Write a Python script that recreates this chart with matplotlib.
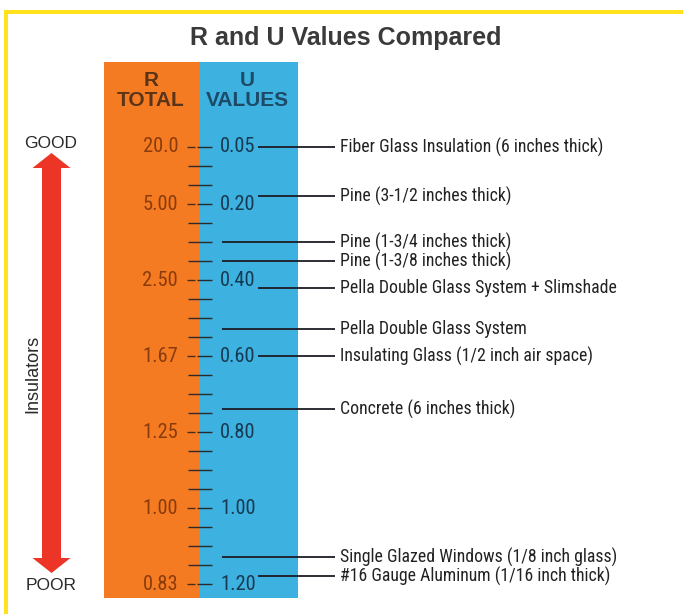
import numpy as np
import matplotlib
matplotlib.use("Agg")
import matplotlib.pyplot as plt
from matplotlib import font_manager
from matplotlib.patches import Rectangle, Polygon

# --- scale data ---------------------------------------------------------
u_major = [0.05, 0.20, 0.40, 0.60, 0.80, 1.00, 1.20]
u_major_labels = ["0.05", "0.20", "0.40", "0.60", "0.80", "1.00", "1.20"]
r_major_labels = ["20.0", "5.00", "2.50", "1.67", "1.25", "1.00", "0.83"]
u_minor_step = 0.05

# --- materials and their U values --------------------------------------
materials = [
    "Fiber Glass Insulation (6 inches thick)",
    "Pine (3-1/2 inches thick)",
    "Pine (1-3/4 inches thick)",
    "Pine (1-3/8 inches thick)",
    "Pella Double Glass System + Slimshade",
    "Pella Double Glass System",
    "Insulating Glass (1/2 inch air space)",
    "Concrete (6 inches thick)",
    "Single Glazed Windows (1/8 inch glass)",
    "#16 Gauge Aluminum (1/16 inch thick)",
]
material_u = [0.05, 0.18, 0.30, 0.35, 0.42, 0.53, 0.60, 0.74, 1.13, 1.18]

# --- fonts: prefer a condensed face when one is installed ---------------
available = {f.name for f in font_manager.fontManager.ttflist}
condensed = [n for n in ("Liberation Sans Narrow", "Roboto Condensed",
                         "Open Sans Condensed") if n in available]
SANS = ["Liberation Sans", "DejaVu Sans"]
if condensed:
    NARROW = [condensed[0], "DejaVu Sans"]
    fs_item, fs_num = 12.8, 14.8
else:
    NARROW = SANS
    fs_item, fs_num = 11, 13

# --- figure -------------------------------------------------------------
W, H = 683, 614
fig = plt.figure(figsize=(W / 100, H / 100), dpi=100)
fig.patch.set_facecolor("white")

# layout layer in pixel units (y grows downward)
deco = fig.add_axes([0, 0, 1, 1])
deco.set_xlim(0, W)
deco.set_ylim(H, 0)
deco.axis("off")

# scale layer: x in layout units, y in U value (linear, increasing downward)
px_per_u = 380.0
u_at_top = 0.05 - 147 / px_per_u
u_at_bottom = u_at_top + H / px_per_u
ax = fig.add_axes([0, 0, 1, 1], facecolor="none")
ax.set_xlim(0, W)
ax.set_ylim(u_at_bottom, u_at_top)
ax.axis("off")

# yellow frame
yellow = "#FFE11C"
deco.add_patch(Rectangle((4, 10), W, 4, color=yellow, lw=0))
deco.add_patch(Rectangle((4, 10), 4, H, color=yellow, lw=0))

# title
deco.text(345.5, 38, "R and U Values Compared", ha="center", va="center",
          fontsize=18, fontweight="bold", color="#3a3a3a", family=SANS)

# coloured columns
orange = "#F57B22"
blue = "#3DB1DF"
deco.add_patch(Rectangle((104, 62), 96, 536, color=orange, lw=0))
deco.add_patch(Rectangle((200, 62), 98, 536, color=blue, lw=0))

for x, top_txt, bot_txt, col in ((151, "R", "TOTAL", "#5a3418"),
                                 (247, "U", "VALUES", "#1d4a66")):
    deco.text(x, 80, top_txt, ha="center", va="center", fontsize=15,
              fontweight="bold", color=col, family=SANS)
    deco.text(x, 101, bot_txt, ha="center", va="center", fontsize=15,
              fontweight="bold", color=col, family=SANS)

# tick marks every 0.05; labelled ticks are split at the column edge
minor = np.arange(u_major[0], u_major[-1] + u_minor_step / 2, u_minor_step)
minor = [m for m in minor if min(abs(m - v) for v in u_major) > 1e-6]
ax.hlines(minor, 188, 212, color="#2a2a2a", lw=1.0)
ax.hlines(u_major, 187, 195, color="#4a2a18", lw=1.0)
ax.hlines(u_major, 197, 212, color="#2a2a2a", lw=1.0)

# major labels (R on the left, U on the right)
for u, rl, ul in zip(u_major, r_major_labels, u_major_labels):
    ax.text(178, u, rl, ha="right", va="center", fontsize=fs_num,
            color="#8a3b0c", family=NARROW)
    ax.text(220, u, ul, ha="left", va="center", fontsize=fs_num,
            color="#173a52", family=NARROW)

# leader lines and material names
for name, u in zip(materials, material_u):
    nearest = min(abs(u - m) for m in u_major)
    x0 = 258 if nearest < 0.035 else 222
    ax.hlines(u, x0, 335, color="#1c1c24", lw=1.3)
    ax.text(340, u, name, ha="left", va="center", fontsize=fs_item,
            color="#222222", family=NARROW)

# GOOD / POOR arrow
red = "#EC3527"
cx = 51.5
shaft_half, head_half, head_len = 9.5, 19, 15
top, bottom = 153, 573
arrow = Polygon([
    (cx, top), (cx + head_half, top + head_len), (cx + shaft_half, top + head_len),
    (cx + shaft_half, bottom - head_len), (cx + head_half, bottom - head_len),
    (cx, bottom), (cx - head_half, bottom - head_len), (cx - shaft_half, bottom - head_len),
    (cx - shaft_half, top + head_len), (cx - head_half, top + head_len),
], closed=True, color=red, lw=0)
deco.add_patch(arrow)

deco.text(51, 143, "GOOD", ha="center", va="center", fontsize=12.5,
          color="#2a2a2a", family=SANS)
deco.text(51, 585, "POOR", ha="center", va="center", fontsize=12.5,
          color="#2a2a2a", family=SANS)
deco.text(33, 374, "Insulators", ha="center", va="center", fontsize=13,
          rotation=90, color="#2a2a2a", family=SANS)

fig.savefig("out.png", dpi=100)
